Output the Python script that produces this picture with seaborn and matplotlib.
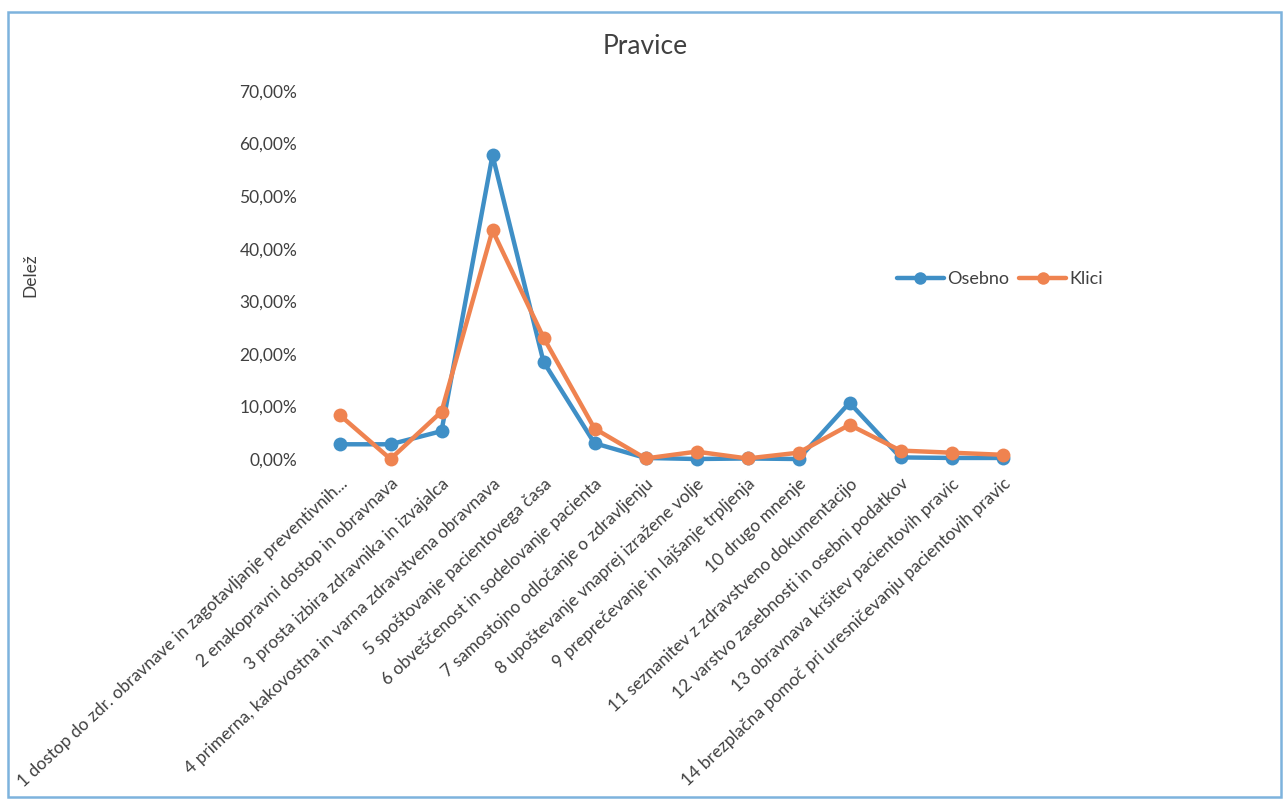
import numpy as np
import pandas as pd
import matplotlib
matplotlib.use("Agg")
import matplotlib.pyplot as plt
import seaborn as sns
from matplotlib.patches import Rectangle
from matplotlib.ticker import FuncFormatter

# podatki
kategorije = [
    "1 dostop do zdr. obravnave in zagotavljanje preventivnih...",
    "2 enakopravni dostop in obravnava",
    "3 prosta izbira zdravnika in izvajalca",
    "4 primerna, kakovostna in varna zdravstvena obravnava",
    "5 spoštovanje pacientovega časa",
    "6 obveščenost in sodelovanje pacienta",
    "7 samostojno odločanje o zdravljenju",
    "8 upoštevanje vnaprej izražene volje",
    "9 preprečevanje in lajšanje trpljenja",
    "10 drugo mnenje",
    "11 seznanitev z zdravstveno dokumentacijo",
    "12 varstvo zasebnosti in osebni podatkov",
    "13 obravnava kršitev pacientovih pravic",
    "14 brezplačna pomoč pri uresničevanju pacientovih pravic",
]
osebno = [0.028, 0.028, 0.053, 0.578, 0.185, 0.030, 0.002, 0.000, 0.001, 0.000, 0.107, 0.003, 0.002, 0.002]
klici = [0.084, 0.000, 0.090, 0.435, 0.231, 0.058, 0.001, 0.014, 0.001, 0.012, 0.065, 0.016, 0.012, 0.008]

serije = ["Osebno", "Klici"]
barve = {"Osebno": "#3F8FC6", "Klici": "#EF8350"}

df = pd.DataFrame({
    "poz": list(range(len(kategorije))) * 2,
    "delez": osebno + klici,
    "serija": ["Osebno"] * len(osebno) + ["Klici"] * len(klici),
})

sns.set_style("white")
plt.rcParams["font.family"] = ["Lato", "DejaVu Sans"]

fig = plt.figure(figsize=(12.83, 8.01), dpi=100)
ax = fig.add_axes([314 / 1283, 1 - 459 / 801, (1028 - 314) / 1283, (459 - 91) / 801])

sns.lineplot(data=df, x="poz", y="delez", hue="serija", hue_order=serije,
             palette=barve, marker="o", markersize=10, markeredgewidth=0,
             linewidth=3.2, ax=ax, legend=False, clip_on=False)

ax.set_xlim(-0.5, len(kategorije) - 0.5)
ax.set_ylim(0, 0.70)
ax.set_yticks(np.arange(0, 0.71, 0.10))
ax.yaxis.set_major_formatter(FuncFormatter(lambda v, p: f"{v * 100:.2f}%".replace(".", ",")))
ax.set_xticks(range(len(kategorije)))
ax.set_xticklabels(kategorije, rotation=43, ha="right", va="top", rotation_mode="anchor")
ax.tick_params(axis="x", labelsize=12.5, colors="#404040", pad=12, length=0)
ax.tick_params(axis="y", labelsize=12.5, colors="#404040", pad=12, length=0)
ax.set_xlabel("")
ax.set_ylabel("")
for s in ax.spines.values():
    s.set_visible(False)

fig.text(645 / 1283, 1 - 47 / 801, "Pravice", ha="center", va="center",
         fontsize=19, color="#404040")
fig.text(30 / 1283, 1 - 275 / 801, "Delež", ha="center", va="center",
         rotation=90, fontsize=12.5, color="#404040")

rocice = [plt.Line2D([], [], color=barve[s], marker="o", markersize=9,
                     markeredgewidth=0, linewidth=3.2) for s in serije]
fig.legend(rocice, serije, loc="center left", bbox_to_anchor=(897 / 1283, 1 - 279 / 801),
           ncol=2, frameon=False, fontsize=13, handlelength=2.6,
           columnspacing=0.6, handletextpad=0.15, borderaxespad=0, borderpad=0,
           labelcolor="#404040")

fig.patches.append(Rectangle((8 / 1283, 1 - 797 / 801), 1273 / 1283, 785 / 801,
                             transform=fig.transFigure, fill=False,
                             edgecolor="#7DB3DD", linewidth=1.8))

fig.savefig("out.png", dpi=100)
